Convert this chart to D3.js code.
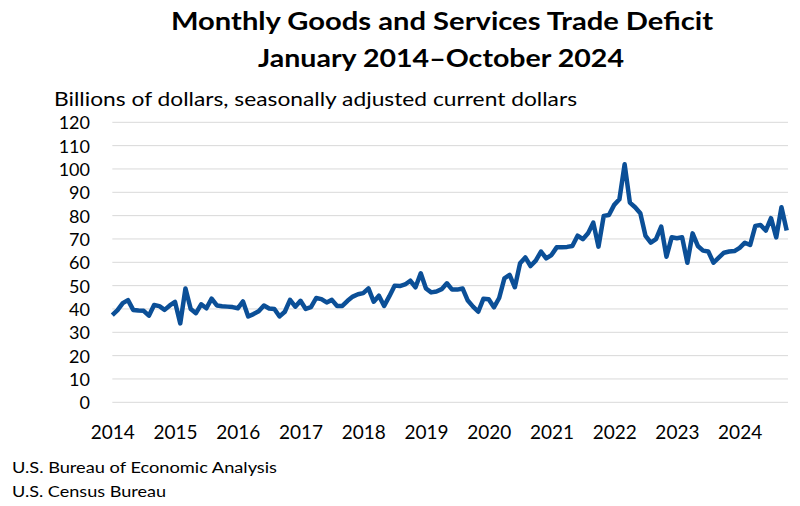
<!DOCTYPE html>
<html><head><meta charset="utf-8">
<script src="https://cdn.jsdelivr.net/npm/d3@7"></script>
<style>body{margin:0;background:#fff;}svg{display:block;}</style>
</head><body>
<svg id="chart" width="800" height="506"></svg>
<script>
const titleLines = ["Monthly Goods and Services Trade Deficit", "January 2014\u2013October 2024"];
const subtitle = "Billions of dollars, seasonally adjusted current dollars";
const sources = ["U.S. Bureau of Economic Analysis", "U.S. Census Bureau"];
const yTicks = [0,10,20,30,40,50,60,70,80,90,100,110,120];
const yearLabels = ["2014","2015","2016","2017","2018","2019","2020","2021","2022","2023","2024"];
// Monthly deficit, Jan 2014 .. Oct 2024 (billions of dollars)
const deficit = [
 37.4,39.5,42.5,43.8,39.6,39.3,39.2,37.1,41.7,41.2,39.6,41.5,
 43.0,33.8,48.8,40.0,38.2,42.0,40.3,44.4,41.5,41.2,41.0,40.8,
 40.3,43.2,36.8,37.8,39.0,41.5,40.2,40.0,36.8,38.8,43.9,41.0,
 43.5,40.0,40.8,44.7,44.2,42.8,43.9,41.3,41.3,43.5,45.3,46.3,
 46.8,48.8,43.1,45.7,41.3,45.5,50.0,49.8,50.5,52.1,49.3,55.3,
 48.8,47.1,47.5,48.5,51.0,48.3,48.3,48.8,43.6,41.0,38.8,44.4,
 44.2,40.7,44.7,53.1,54.6,49.3,59.6,62.1,58.4,60.7,64.6,61.7,
 63.1,66.4,66.5,66.6,67.0,71.4,69.9,72.4,77.0,66.7,79.9,80.3,
 84.6,87.0,102.0,85.6,83.6,81.0,71.3,68.4,69.9,75.3,62.4,70.7,
 70.3,70.7,59.8,72.4,67.0,65.0,64.6,59.8,62.0,64.1,64.6,64.8,
 66.2,68.4,67.4,75.6,76.0,73.6,78.9,70.7,83.6,73.6
];

const svg = d3.select("#chart");
const font = "Lato, 'Open Sans', sans-serif";
const x = d3.scaleLinear().domain([0, deficit.length - 1]).range([112.3, 786.7]);
const y = d3.scaleLinear().domain([0, 120]).range([402.3, 122.3]);

// titles
const tl = [{t:titleLines[0], x:171, y:30, w:542},{t:titleLines[1], x:258, y:67, w:366}];
tl.forEach(d => svg.append("text").attr("x", d.x).attr("y", d.y)
  .attr("font-family", font).attr("font-weight", "bold").attr("font-size", 24)
  .attr("fill", "#000").attr("textLength", d.w).attr("lengthAdjust", "spacingAndGlyphs").text(d.t));

svg.append("text").attr("x", 54).attr("y", 106).attr("font-family", font)
  .attr("font-size", 19).attr("fill", "#000").attr("textLength", 523)
  .attr("lengthAdjust", "spacingAndGlyphs").text(subtitle);

// gridlines
svg.append("g").selectAll("line").data(yTicks).join("line")
  .attr("x1", 112.3).attr("x2", 788).attr("y1", d => y(d)).attr("y2", d => y(d))
  .attr("stroke", "#d9d9d9").attr("stroke-width", 1);

// y axis labels
const yAxis = d3.axisLeft(y).tickValues(yTicks).tickSize(0).tickPadding(0);
const gy = svg.append("g").attr("transform", "translate(90,0)").call(yAxis);
gy.select(".domain").remove();
gy.selectAll("text").attr("font-family", font).attr("font-size", 18).attr("fill", "#000")
  .attr("dy", "0.36em");

// x axis labels
const xAxis = d3.axisBottom(x).tickValues(yearLabels.map((d,i) => i*12))
  .tickFormat((d,i) => yearLabels[i]).tickSize(0).tickPadding(0);
const gx = svg.append("g").attr("transform", "translate(0,425)").call(xAxis);
gx.select(".domain").remove();
gx.selectAll("text").attr("font-family", font).attr("font-size", 19).attr("fill", "#000")
  .attr("dy", "0.71em");

// line
const line = d3.line().x((d,i) => x(i)).y(d => y(d));
svg.append("path").datum(deficit).attr("d", line).attr("fill", "none")
  .attr("stroke", "#0b4f97").attr("stroke-width", 4.5).attr("stroke-linejoin", "round");

// sources
const sw = [265, 154];
sources.forEach((s, i) => svg.append("text").attr("x", 12).attr("y", 473 + i*24)
  .attr("font-family", font).attr("font-size", 16).attr("fill", "#000")
  .attr("textLength", sw[i]).attr("lengthAdjust", "spacingAndGlyphs").text(s));
</script>
</body></html>
